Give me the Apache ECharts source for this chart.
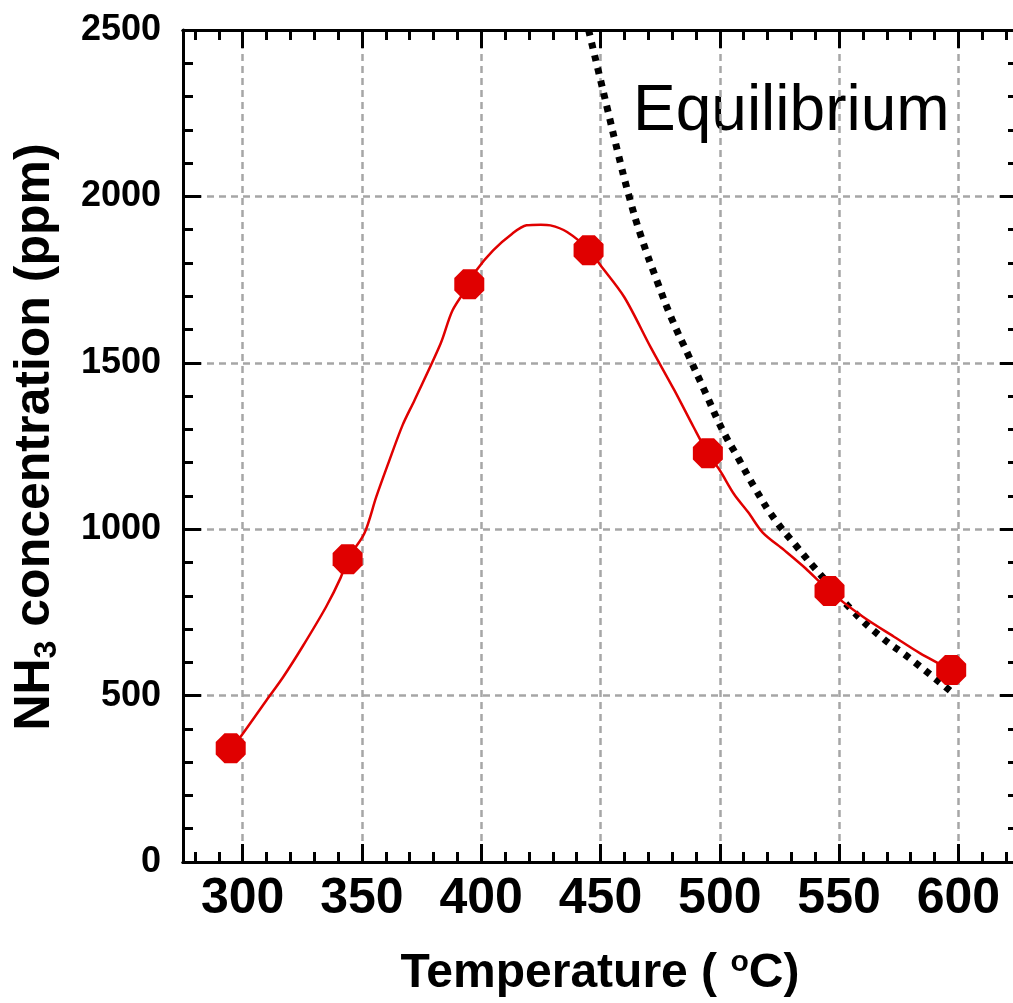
<!DOCTYPE html>
<html>
<head>
<meta charset="utf-8">
<script src="https://cdn.jsdelivr.net/npm/echarts@6/dist/echarts.min.js"></script>
<style>
  html, body { margin: 0; padding: 0; background: #fff; }
  #chart { width: 1013px; height: 1003px; }
</style>
</head>
<body>
<div id="chart"></div>
<script>
  // measured NH3 points (octagon markers)
  const tempPoints = [295, 344, 395, 445, 495, 546, 597]
  const nh3Points = [342, 910, 1736, 1838, 1228, 814, 577]

  // red fitted curve through the points
  const fitTemp = [295, 299, 310, 317, 325, 335, 341, 344, 351, 356, 361, 367, 372, 383, 388, 395, 398, 405, 413, 419, 425, 429, 436, 445, 450, 460, 471, 481, 489, 495, 500, 506, 512, 518, 527, 536, 546, 560, 573, 584, 597]
  const fitNh3 = [342, 375, 486, 556, 646, 767, 853, 910, 987, 1097, 1197, 1312, 1387, 1558, 1658, 1736, 1778, 1838, 1888, 1913, 1915, 1913, 1893, 1840, 1793, 1697, 1547, 1417, 1307, 1228, 1177, 1105, 1050, 990, 937, 882, 814, 737, 677, 627, 577]

  // equilibrium (dotted black)
  const eqTemp = [445, 449, 453, 457, 462, 467, 474, 480, 487, 494, 501, 508, 515, 523, 532, 542, 555, 567, 580, 598]
  const eqNh3 = [2500, 2380, 2260, 2140, 2000, 1880, 1740, 1630, 1520, 1410, 1300, 1210, 1120, 1030, 950, 865, 760, 680, 610, 506]

  const xMajor = [300, 350, 400, 450, 500, 550, 600]
  const xMinor = [280, 290, 310, 320, 330, 340, 360, 370, 380, 390, 410, 420, 430, 440, 460, 470, 480, 490, 510, 520, 530, 540, 560, 570, 580, 590, 610, 620]

  const font = '"Liberation Sans", Arial, sans-serif'
  const red = '#e00000'
  const octagon = 'path://M29.3,0L70.7,0L100,29.3L100,70.7L70.7,100L29.3,100L0,70.7L0,29.3Z'

  const toPairs = (xs, ys) => xs.map((x, i) => [x, ys[i]])

  const axisLine = { show: true, onZero: false, lineStyle: { color: '#000', width: 3 } }
  const gridLine = { show: true, lineStyle: { color: '#a6a6a6', width: 2.5, type: [7, 5] } }

  function xAxisDef (position, ticks, len, withLabels) {
    return {
      type: 'value',
      position: position,
      min: 275,
      max: 625,
      axisLine: axisLine,
      axisTick: {
        show: true,
        inside: true,
        length: len,
        customValues: ticks,
        lineStyle: { color: '#000', width: 3 }
      },
      axisLabel: {
        show: withLabels,
        customValues: ticks,
        margin: 12,
        color: '#000',
        fontFamily: font,
        fontWeight: 'bold',
        fontSize: 50
      },
      splitLine: withLabels ? gridLine : { show: false }
    }
  }

  function yAxisDef (position, withLabels) {
    return {
      type: 'value',
      position: position,
      min: 0,
      max: 2500,
      interval: 500,
      axisLine: axisLine,
      axisTick: { show: true, inside: true, length: 18, lineStyle: { color: '#000', width: 3 } },
      minorTick: { show: true, splitNumber: 5, length: 10, lineStyle: { color: '#000', width: 3 } },
      axisLabel: {
        show: withLabels,
        margin: 22,
        color: '#000',
        fontFamily: font,
        fontWeight: 'bold',
        fontSize: 36,
        formatter: v => String(v)
      },
      splitLine: withLabels ? gridLine : { show: false },
      minorSplitLine: { show: false }
    }
  }

  const chart = echarts.init(document.getElementById('chart'))

  const option = {
    animation: false,
    backgroundColor: '#fff',
    grid: {
      left: 183,
      top: 30,
      width: 835,
      height: 832,
      containLabel: false,
      outerBoundsMode: 'none'
    },
    xAxis: [
      xAxisDef('bottom', xMajor, 18, true),
      xAxisDef('bottom', xMinor, 10, false),
      xAxisDef('top', xMajor, 18, false),
      xAxisDef('top', xMinor, 10, false)
    ],
    yAxis: [
      yAxisDef('left', true),
      yAxisDef('right', false)
    ],
    graphic: [
      {
        type: 'text',
        x: 633,
        y: 112,
        style: {
          text: 'Equilibrium',
          font: 'normal 64px ' + font,
          fill: '#000',
          align: 'left',
          verticalAlign: 'middle'
        }
      },
      {
        type: 'text',
        x: 600,
        y: 974,
        style: {
          text: '{a|Temperature ( }{s|o}{a|C)}',
          fill: '#000',
          align: 'center',
          verticalAlign: 'middle',
          rich: {
            a: { fontFamily: font, fontWeight: 'bold', fontSize: 48, lineHeight: 56 },
            s: { fontFamily: font, fontWeight: 'bold', fontSize: 30, lineHeight: 34, padding: [0, 0, 22, 0] }
          }
        }
      },
      {
        type: 'text',
        x: 35,
        y: 437,
        rotation: Math.PI / 2,
        style: {
          text: '{a|NH}{s|3}{a| concentration (ppm)}',
          fill: '#000',
          align: 'center',
          verticalAlign: 'middle',
          rich: {
            a: { fontFamily: font, fontWeight: 'bold', fontSize: 50, lineHeight: 58 },
            s: { fontFamily: font, fontWeight: 'bold', fontSize: 32, lineHeight: 34, padding: [24, 0, 0, 0] }
          }
        }
      }
    ],
    series: [
      {
        name: 'Equilibrium',
        type: 'line',
        xAxisIndex: 0,
        yAxisIndex: 0,
        data: toPairs(eqTemp, eqNh3),
        smooth: true,
        showSymbol: false,
        lineStyle: { color: '#000', width: 7, type: [6, 7], cap: 'butt' },
        z: 3
      },
      {
        name: 'fit',
        type: 'line',
        xAxisIndex: 0,
        yAxisIndex: 0,
        data: toPairs(fitTemp, fitNh3),
        smooth: 0.3,
        showSymbol: false,
        lineStyle: { color: red, width: 2.5 },
        z: 4
      },
      {
        name: 'NH3',
        type: 'scatter',
        xAxisIndex: 0,
        yAxisIndex: 0,
        data: toPairs(tempPoints, nh3Points),
        symbol: octagon,
        symbolSize: 30,
        itemStyle: { color: red, opacity: 1 },
        z: 5
      }
    ]
  }

  chart.setOption(option)
</script>
</body>
</html>
